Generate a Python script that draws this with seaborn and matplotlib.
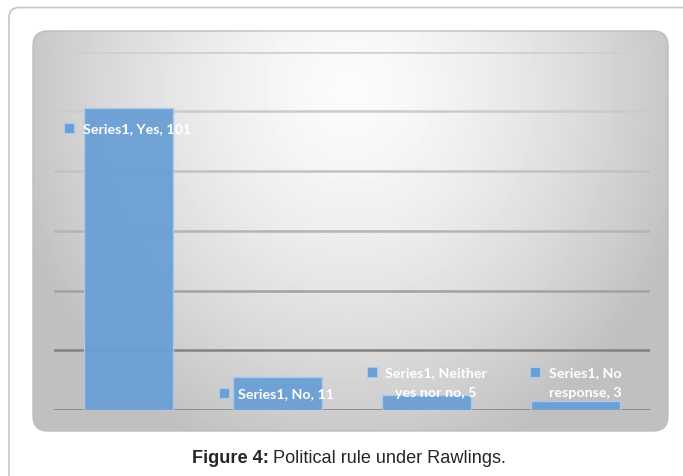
import numpy as np
import pandas as pd
import matplotlib
matplotlib.use("Agg")
import matplotlib.pyplot as plt
from matplotlib.patches import FancyBboxPatch
import seaborn as sns

# ---- data -------------------------------------------------------------
series_name = "Series1"
categories = ["Yes", "No", "Neither yes nor no", "No response"]
values = [101, 11, 5, 3]
# label line breaks as they wrap in the chart
label_lines = [
    ["Series1, Yes, 101"],
    ["Series1, No, 11"],
    ["Series1, Neither", "yes nor no, 5"],
    ["Series1, No", "response, 3"],
]
y_ticks = [0, 20, 40, 60, 80, 100, 120]
caption_bold = "Figure 4:"
caption_rest = " Political rule under Rawlings."

# ---- figure -----------------------------------------------------------
sns.set_theme(style="white")
plt.rcParams["font.family"] = ["Lato", "DejaVu Sans"]

W, H = 683, 477
fig = plt.figure(figsize=(W / 100, H / 100), dpi=100)
fig.patch.set_facecolor("white")

# background layer in pixel coordinates (y grows downward)
bg = fig.add_axes([0, 0, 1, 1], zorder=0)
bg.set_xlim(0, W)
bg.set_ylim(H, 0)
bg.axis("off")

# outer card frame
card = FancyBboxPatch((9, 8.5), W + 40, H + 40,
                      boxstyle="round,pad=0,rounding_size=10",
                      fc="white", ec="#c6c6c6", lw=1.2)
bg.add_patch(card)

# gradient panel
px0, py0, px1, py1 = 33, 32, 668, 432
yy, xx = np.mgrid[py0:py1, px0:px1]
cx, cy, rx, ry = 350, 90, 360, 400
d = np.sqrt(((xx - cx) / rx) ** 2 + ((yy - cy) / ry) ** 2)
shade = 251 - 62 * np.clip(d, 0, 1.15) ** 1.5
shade = np.clip(shade, 192, 252) / 255.0
img = bg.imshow(shade, cmap="gray", vmin=0, vmax=1,
                extent=(px0, px1, py1, py0), interpolation="bilinear",
                zorder=1)
panel = FancyBboxPatch((px0, py0), px1 - px0, py1 - py0,
                       boxstyle="round,pad=0,rounding_size=15",
                       fc="none", ec="#bdbdbd", lw=1.0, zorder=2)
bg.add_patch(panel)
img.set_clip_path(panel)

# ---- bar chart --------------------------------------------------------
ax_left, ax_right = 54, 650
ax_base, ax_top = 411, 52.5
ax = fig.add_axes([ax_left / W, (H - ax_base) / H,
                   (ax_right - ax_left) / W, (ax_base - ax_top) / H], zorder=3)
ax.patch.set_alpha(0)

df = pd.DataFrame({"category": categories, "value": values})
sns.barplot(data=df, x="category", y="value", ax=ax, color="#6a9fd6",
            width=0.6, saturation=1, edgecolor="#a9cbeb", linewidth=1.0,
            alpha=0.95, zorder=3)

ax.set_xlim(-0.5, len(categories) - 0.5)
ax.set_ylim(0, y_ticks[-1])
ax.set_yticks(y_ticks)
ax.set_xticks([])
ax.set_xlabel("")
ax.set_ylabel("")
ax.tick_params(left=False, bottom=False, labelleft=False)
for s in ax.spines.values():
    s.set_visible(False)

# gridlines, lighter toward the top of the panel
grid_cols = ["#7c7c7c", "#828282", "#a2a2a2", "#b4b4b4", "#c2c2c2", "#cbcbcb", "#cfcfcf"]
for t, c in zip(y_ticks, grid_cols):
    ax.axhline(t, color=c, lw=1.8, zorder=1)

# ---- data labels --------------------------------------------------------
px_per_x = (ax_right - ax_left) / len(categories)
px_per_y = (ax_base - ax_top) / y_ticks[-1]

def to_data(px, py):
    return ((px - ax_left) / px_per_x - 0.5, (ax_base - py) / px_per_y)

# (marker px, text anchor px, alignment)
label_layout = [
    ((69, 129), (83, 129), "left"),
    ((224, 394), (238, 394), "left"),
    ((372, 373), (436, 373), "center"),
    ((535, 373), (585, 373), "center"),
]
line_gap = 20.5
for lines, (mk, tx, ha) in zip(label_lines, label_layout):
    mx, my = to_data(*mk)
    ax.plot([mx], [my], marker="s", ms=6.5, mfc="#6a9fd6", mec="#a9cbeb",
            mew=0.8, zorder=5, clip_on=False)
    for i, ln in enumerate(lines):
        x, y = to_data(tx[0], tx[1] + i * line_gap)
        ax.text(x, y, ln, ha=ha, va="center", color="white",
                fontsize=10.3, fontweight="bold", zorder=6, clip_on=False)

# ---- caption ----------------------------------------------------------
cap_y = 1 - 459 / H
t1 = fig.text(0.5, cap_y, caption_bold, ha="left", va="center",
              fontsize=13.1, fontweight="bold", family=["Liberation Sans"])
t2 = fig.text(0.5, cap_y, caption_rest, ha="left", va="center",
              fontsize=13.1, family=["Liberation Sans"])
fig.canvas.draw()
r = fig.canvas.get_renderer()
w1 = t1.get_window_extent(r).width
w2 = t2.get_window_extent(r).width
start = 349 - (w1 + w2) / 2
t1.set_x(start / W)
t2.set_x((start + w1) / W)

fig.savefig("out.png", dpi=100)
